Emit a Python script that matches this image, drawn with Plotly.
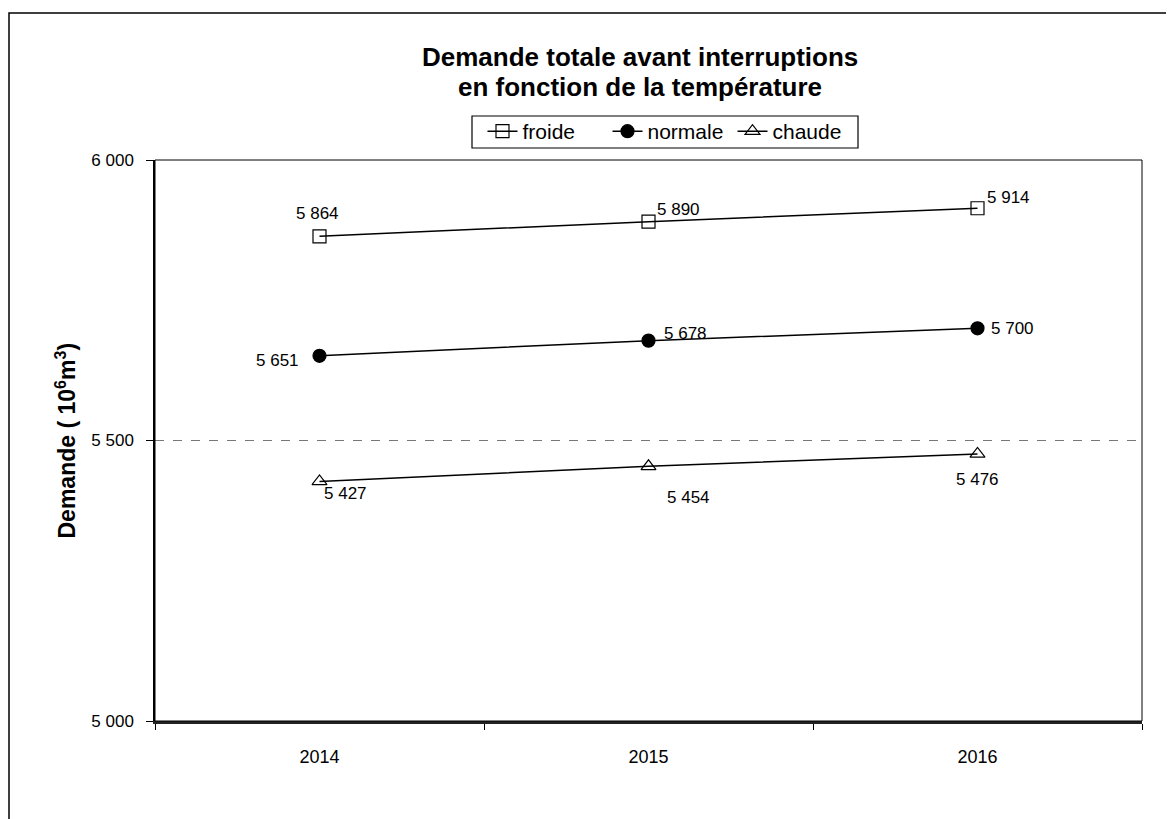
import plotly.graph_objects as go

years = ["2014", "2015", "2016"]
froide = [5864, 5890, 5914]
normale = [5651, 5678, 5700]
chaude = [5427, 5454, 5476]
series_names = ["froide", "normale", "chaude"]
y_ticks = [5000, 5500, 6000]
title_lines = ["Demande totale avant interruptions", "en fonction de la température"]

# label offsets (pixels) for each point's value label
label_offsets = {
    "froide": [(-2, 23), (30, 12), (31, 11)],
    "normale": [(-42, -5), (37, 7), (35, 0)],
    "chaude": [(26, -12), (40, -31), (0, -26)],
}
symbols = {"froide": "square-open", "normale": "circle", "chaude": "triangle-up-open"}

FONT = "Liberation Sans, Arial, sans-serif"

def fmt(v):
    return f"{v:,}".replace(",", " ")

def px_x(p):  # page px -> paper x
    return (p - 155) / 987

def px_y(p):  # page px -> paper y
    return (721 - p) / 561

fig = go.Figure()
for name, vals in zip(series_names, [froide, normale, chaude]):
    fig.add_trace(go.Scatter(
        x=years, y=vals, name=name, mode="lines+markers",
        line=dict(color="black", width=1.5),
        marker=dict(symbol=symbols[name], size=13, color="black",
                    line=dict(color="black", width=1.2)),
    ))
    for i, (yv, (dx, dy)) in enumerate(zip(vals, label_offsets[name])):
        fig.add_annotation(x=i, y=yv, xref="x", yref="y", text=fmt(yv),
                           showarrow=False, xshift=dx, yshift=dy,
                           font=dict(family=FONT, size=17, color="black"))

# outer border
fig.add_shape(type="rect", xref="paper", yref="paper",
              x0=px_x(9), x1=1.2, y0=-0.4, y1=px_y(13),
              line=dict(color="black", width=1.5), layer="below")
# plot area border
fig.add_shape(type="rect", xref="paper", yref="paper",
              x0=0, x1=1, y0=0, y1=1,
              line=dict(color="black", width=1))
# legend box
fig.add_shape(type="rect", xref="paper", yref="paper",
              x0=px_x(472), x1=px_x(858), y0=px_y(148), y1=px_y(116),
              line=dict(color="black", width=1.2), fillcolor="white", layer="below")

fig.add_annotation(xref="paper", yref="paper", x=px_x(48), y=0.5,
                   text="<b>Demande ( 10<sup>6</sup>m<sup>3</sup>)</b>",
                   textangle=-90, showarrow=False,
                   font=dict(family=FONT, size=23, color="black"))

for line, ypix in zip(title_lines, [57, 87]):
    fig.add_annotation(xref="paper", yref="paper", x=px_x(640),
                       y=px_y(ypix), yanchor="middle",
                       text=f"<b>{line}</b>", showarrow=False,
                       font=dict(family=FONT, size=26, color="black"))

fig.update_layout(
    width=1166, height=811,
    margin=dict(l=147, r=32, t=152, b=98),
    paper_bgcolor="white", plot_bgcolor="white",
    font=dict(family=FONT, color="black"),
    separators=", ",
    showlegend=True,
    legend=dict(orientation="h", x=px_x(670), xanchor="center",
                y=px_y(111), yanchor="top",
                borderwidth=0, bgcolor="rgba(0,0,0,0)",
                font=dict(family=FONT, size=21, color="black"),
                itemwidth=30, entrywidth=80, entrywidthmode="pixels"),
    xaxis=dict(type="category", range=[-0.5, 2.5], showgrid=False,
               showline=True, linecolor="#222", linewidth=2.5,
               ticks="outside", tickson="boundaries", ticklen=6, tickcolor="black",
               tickfont=dict(family=FONT, size=18, color="black"),
               ticklabelstandoff=18, zeroline=False),
    yaxis=dict(range=[5000, 6000], tickvals=y_ticks, tickformat=",d",
               showgrid=True, gridcolor="#777", griddash="dash", gridwidth=1,
               showline=True, linecolor="black", linewidth=1.5,
               ticks="outside", ticklen=7, tickcolor="black",
               tickfont=dict(family=FONT, size=17, color="black"),
               ticklabelstandoff=9, zeroline=False),
)

fig.write_html("out.html")
